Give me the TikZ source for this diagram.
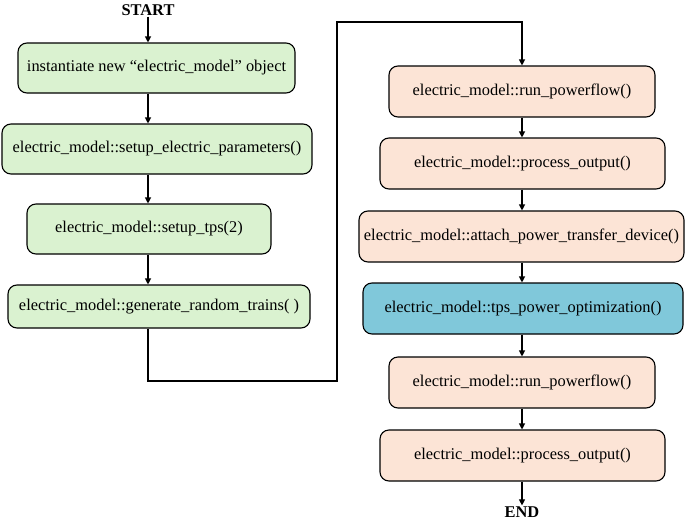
\documentclass[tikz,border=0pt]{standalone}
\usepackage{fontspec}
\setmainfont{Liberation Serif}
\usetikzlibrary{arrows.meta,positioning}
\definecolor{setupgreen}{RGB}{218,242,208}
\definecolor{runpeach}{RGB}{252,228,214}
\definecolor{optblue}{RGB}{128,200,218}
\tikzset{
    flowbox/.style = {draw, line width=1.1pt, rounded corners=9pt, inner sep=2pt,
        font=\fontsize{16.4}{19}\selectfont},
    setupbox/.style = {flowbox, fill=setupgreen},
    runbox/.style = {flowbox, fill=runpeach},
    optbox/.style = {flowbox, fill=optblue},
    terminal/.style = {font=\fontsize{16.4}{19}\selectfont\bfseries, inner sep=1pt},
    headarrow/.style = {line width=1.1pt, -{Triangle[length=6pt,width=6pt]}}
}

\begin{document}
\begin{tikzpicture}[x=1pt,y=-1pt]
    \useasboundingbox (0,0) rectangle (685,522);

    % setup column
    \node[terminal] (start) at (148,10) {START};
    \node[setupbox, minimum width=277pt, minimum height=50pt] (inst) at (156.5,68)
        {instantiate new “electric\_model” object};
    \node[setupbox, minimum width=310pt, minimum height=50pt] (params) at (157,149)
        {electric\_model::setup\_electric\_parameters()};
    \node[setupbox, minimum width=244pt, minimum height=50pt] (tps) at (149,229)
        {electric\_model::setup\_tps(2)};
    \node[setupbox, minimum width=302pt, minimum height=43pt] (trains) at (159,306.5)
        {electric\_model::generate\_random\_trains( )};

    % simulation column
    \node[runbox, minimum width=266pt, minimum height=51pt] (flowa) at (522,91.5)
        {electric\_model::run\_powerflow()};
    \node[runbox, minimum width=285pt, minimum height=51pt] (outa) at (522.5,163.5)
        {electric\_model::process\_output()};
    \node[runbox, minimum width=325pt, minimum height=51pt] (attach) at (521.5,236.5)
        {electric\_model::attach\_power\_transfer\_device()};
    \node[optbox, minimum width=320pt, minimum height=51pt] (optim) at (523,308.5)
        {electric\_model::tps\_power\_optimization()};
    \node[runbox, minimum width=266pt, minimum height=51pt] (flowb) at (522,382.5)
        {electric\_model::run\_powerflow()};
    \node[runbox, minimum width=285pt, minimum height=51pt] (outb) at (522.5,455.5)
        {electric\_model::process\_output()};
    \node[terminal] (end) at (522,512) {END};

    \coordinate (loopbot) at (148,381);
    \coordinate (looptop) at (337,22);

    \draw[headarrow] (start) -- (inst.north -| start);
    \foreach \a/\b in {inst/params, params/tps, tps/trains}
        \draw[headarrow] (\a.south -| start) -- (\b.north -| start);
    \draw[headarrow] (trains.south -| start) |- (looptop |- loopbot)
        -- (looptop) -| (flowa.north);
    \foreach \a/\b in {flowa/outa, outa/attach, attach/optim, optim/flowb, flowb/outb, outb/end}
        \draw[headarrow] (\a.south -| flowa) -- (\b.north -| flowa);
\end{tikzpicture}
\end{document}
